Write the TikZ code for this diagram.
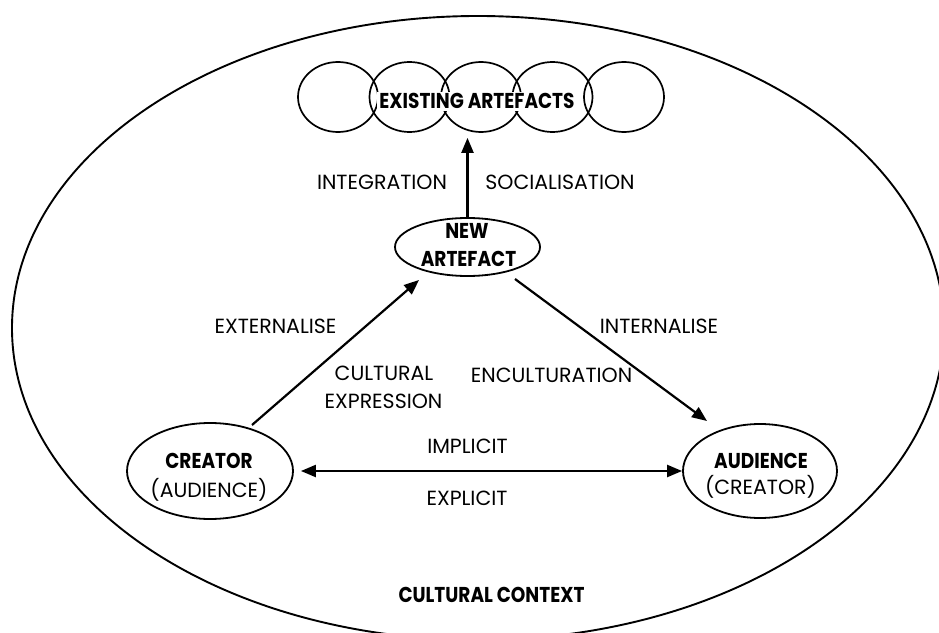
\documentclass[tikz,border=0pt]{standalone}
\usepackage{fontspec}
\setmainfont{Poppins}[BoldFeatures={FakeStretch=0.86}]
\usetikzlibrary{shapes.geometric,arrows.meta}

\begin{document}
\begin{tikzpicture}[x=1bp,y=-1bp,
  lbl/.style={font=\fontsize{20.5bp}{29bp}\selectfont, inner sep=0pt, anchor=base},
  blbl/.style={font=\fontsize{21.5bp}{29bp}\selectfont\bfseries, inner sep=0pt, anchor=base},
  oval/.style={draw, ellipse, line width=1.8bp, inner sep=0pt},
  bubble/.style={draw, ellipse, line width=1.7bp, inner sep=0pt,
    minimum width=80bp, minimum height=70bp},
  conn/.style={line width=2.2bp, -{Triangle[length=15bp,width=12bp]}},
  biconn/.style={line width=2.2bp, {Triangle[length=15bp,width=12bp]}-{Triangle[length=15bp,width=12bp]}}
]
\useasboundingbox (0,0) rectangle (939,633);
\fill[white] (0,0) rectangle (939,633);
\clip (0,0) rectangle (939,633);

% surrounding cultural context
\node[draw, ellipse, line width=1.9bp, inner sep=0pt,
  minimum width=932bp, minimum height=624bp] (context) at (478,328) {};
\node[blbl] (contextlbl) at (491.5,602) {CULTURAL CONTEXT};

% chain of existing artefacts
\node[bubble] (e1) at (338,97) {};
\node[bubble] (e2) at (409.5,97) {};
\node[bubble] (e3) at (481,97) {};
\node[bubble] (e4) at (552.5,97) {};
\node[bubble] (e5) at (624,97) {};
\node[blbl, fill=white, inner sep=2bp] (existing) at (477,109) {EXISTING ARTEFACTS};

% the three main actors
\node[oval, minimum width=145bp, minimum height=58bp] (new) at (467.5,247) {};
\node[blbl] (newa) at (467,238.5) {NEW};
\node[blbl] (newb) at (468.5,267) {ARTEFACT};

\node[oval, minimum width=166bp, minimum height=96bp] (creator) at (210,471) {};
\node[blbl] (creatora) at (209,468) {CREATOR};
\node[lbl] (creatorb) at (209,497) {(AUDIENCE)};

\node[oval, minimum width=154bp, minimum height=94bp] (audience) at (760,471) {};
\node[blbl] (audiencea) at (761,468) {AUDIENCE};
\node[lbl] (audienceb) at (760.5,494) {(CREATOR)};

% connectors
\draw[conn, shorten >=5bp] (new.north) -- (new.north |- e3.south);
\draw[conn] ([shift={(42,-46)}]creator.center) -- ([shift={(-48.5,33)}]new.center);
\draw[conn] ([shift={(47.5,32)}]new.center) -- ([shift={(-53,-50)}]audience.center);
\draw[biconn, shorten <=7bp] (creator.east) -- (audience.west);

% connector labels
\node[lbl] (integ) at (382,189.5) {INTEGRATION};
\node[lbl] (social) at (560,189.5) {SOCIALISATION};
\node[lbl] (extern) at (275.5,333) {EXTERNALISE};
\node[lbl] (intern) at (659,333) {INTERNALISE};
\node[lbl] (culta) at (384,380.5) {CULTURAL};
\node[lbl] (cultb) at (383.5,408) {EXPRESSION};
\node[lbl] (encult) at (551.5,382) {ENCULTURATION};
\node[lbl] (implicit) at (467.5,453.5) {IMPLICIT};
\node[lbl] (explicit) at (467,505) {EXPLICIT};
\end{tikzpicture}
\end{document}
